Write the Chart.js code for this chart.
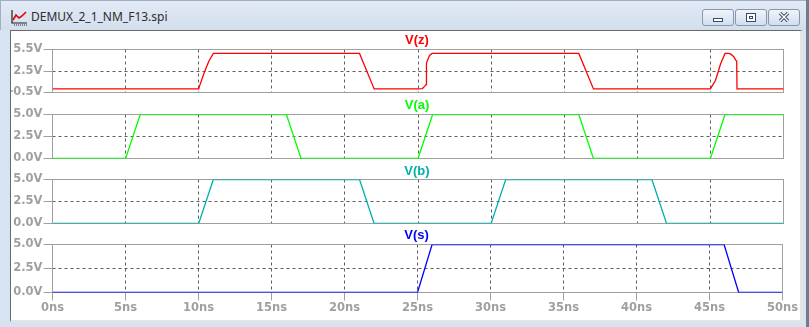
<!DOCTYPE html>
<html>
<head>
<meta charset="utf-8">
<title>DEMUX_2_1_NM_F13.spi</title>
<script src="https://cdn.jsdelivr.net/npm/chart.js@4.4.0/dist/chart.umd.min.js"></script>
<style>
  html, body { margin: 0; padding: 0; }
  body {
    width: 809px; height: 327px; position: relative; overflow: hidden;
    background: #d8e3f1;
  }
  .titlebar {
    position: absolute; left: 0; top: 0; width: 809px; height: 30px;
    background: linear-gradient(#e2eaf5, #d3deed);
    border-top: 1px solid #9fb0c6; border-left: 1px solid #9fb0c6;
    box-sizing: border-box;
  }
  .caption {
    position: absolute; left: 31px; top: 8px;
    font: 12px "Noto Sans", "DejaVu Sans", sans-serif; color: #2d2d2d;
  }
  .icon { position: absolute; left: 11px; top: 9px; }
  .btn {
    position: absolute; top: 9px; width: 32px; height: 17px;
    border: 1px solid #8597b2; border-radius: 3px; box-sizing: border-box;
    background: linear-gradient(#f0f4fa, #d2deee);
  }
  .min-glyph {
    position: absolute; left: 10px; top: 8px; width: 10px; height: 4px;
    border: 1px solid #3a4a62; background: #fff; box-sizing: border-box;
  }
  .max-glyph {
    position: absolute; left: 10px; top: 3px; width: 10px; height: 9px;
    border: 1px solid #3a4a62; background: #fff; box-sizing: border-box;
  }
  .max-glyph div {
    position: absolute; left: 2px; top: 2px; width: 4px; height: 3px;
    border: 1px solid #3a4a62; box-sizing: border-box;
  }
  .content {
    position: absolute; left: 10px; top: 30px; width: 793px; height: 292px;
    background: #fff; box-sizing: border-box;
    border-left: 1px solid #6a6a6a; border-top: 1px solid #6a6a6a;
    border-right: 3px solid #e4e4e4; border-bottom: 2px solid #e4e4e4;
  }
  .edge { position: absolute; left: 806px; top: 0; width: 3px; height: 327px; background: #6f7c8e; }
  canvas { position: absolute; left: 11px; }
</style>
</head>
<body>
<div class="titlebar"></div>
<svg class="icon" width="17" height="17" viewBox="0 0 17 17">
  <polyline points="1,1 1,14 16,14" fill="none" stroke="#222" stroke-width="1.2"/>
  <path d="M3 16h1M5 16h1M7 16h1M9 16h1M11 16h1M13 16h1M15 16h1" stroke="#222" stroke-width="1"/>
  <polyline points="2,11 5,6 8,9 11,7 15,3" fill="none" stroke="#e00000" stroke-width="1.6"/>
</svg>
<div class="caption">DEMUX_2_1_NM_F13.spi</div>
<div class="btn" style="left:702px"><div class="min-glyph"></div></div>
<div class="btn" style="left:735px"><div class="max-glyph"><div></div></div></div>
<div class="btn" style="left:768px">
  <svg width="30" height="15" style="position:absolute;left:0;top:0">
    <path d="M11 3L19 11M19 3L11 11" stroke="#3a4a62" stroke-width="3.2"/>
    <path d="M11 3L19 11M19 3L11 11" stroke="#fff" stroke-width="1.4"/>
  </svg>
</div>
<div class="content"></div>
<div class="edge"></div>

<canvas id="chartZ" width="789" height="69" style="top:31px"></canvas>
<canvas id="chartA" width="789" height="72" style="top:94px"></canvas>
<canvas id="chartB" width="789" height="71" style="top:160px"></canvas>
<canvas id="chartS" width="789" height="95" style="top:224px"></canvas>

<script>
// time axis (ns)
const timeTicks = [0, 5, 10, 15, 20, 25, 30, 35, 40, 45, 50];
const timeTickLabels = timeTicks.map((t) => t + "ns");

// voltage ticks
const zTicks = [-0.5, 2.5, 5.5];
const zTickLabels = ["-0.5V", "2.5V", "5.5V"];
const logicTicks = [0, 2.5, 5];
const logicTickLabels = ["0.0V", "2.5V", "5.0V"];

// V(z)
const zTime = [0, 10, 10.05, 10.4, 10.7, 11, 21, 22, 25, 25.3, 25.45, 25.55, 25.58, 25.65, 25.8, 25.97,
  36, 37, 45, 45.35, 45.7, 46, 46.25, 46.4, 46.6, 46.72, 46.8, 46.82, 50];
const zVolts = [0, 0, 0.35, 2.4, 3.9, 4.95, 4.95, 0, 0, 0.05, 0.35, 0.6, 3.6, 4.0, 4.7, 4.95,
  4.95, 0, 0, 1.2, 3.5, 4.95, 4.95, 4.85, 4.5, 4.05, 3.9, 0, 0];

// V(a)
const aTime = [0, 5, 6, 16, 17, 25, 26, 36, 37, 45, 46, 50];
const aVolts = [0, 0, 5, 5, 0, 0, 5, 5, 0, 0, 5, 5];

// V(b)
const bTime = [0, 10, 11, 21, 22, 30, 31, 41, 42, 50];
const bVolts = [0, 0, 5, 5, 0, 0, 5, 5, 0, 0];

// V(s)
const sTime = [0, 25, 26, 46, 47, 50];
const sVolts = [0, 0, 5, 5, 0, 0];

const tickFont = { family: "DejaVu Sans", weight: "bold", size: 11.5, lineHeight: 1 };
const axisGray = "#a0a0a0";

// dashed grid, solid frame and trace name, like the LTspice panes
const panelFrame = {
  id: "panelFrame",
  beforeDatasetsDraw(chart) {
    const { ctx, chartArea: a, scales } = chart;
    const opts = chart.options.plugins.panelFrame;
    ctx.save();
    ctx.lineWidth = 1;
    ctx.strokeStyle = "#5c5c5c";
    ctx.setLineDash([3, 3]);
    ctx.beginPath();
    timeTicks.slice(1, -1).forEach((t) => {
      const px = Math.floor(scales.x.getPixelForValue(t)) + 0.5;
      ctx.moveTo(px, a.top);
      ctx.lineTo(px, a.bottom);
    });
    const py = Math.floor(scales.y.getPixelForValue(opts.mid)) + 0.5;
    ctx.moveTo(a.left, py);
    ctx.lineTo(a.right, py);
    ctx.stroke();
    ctx.setLineDash([]);
    ctx.strokeStyle = axisGray;
    ctx.strokeRect(a.left, a.top, a.right - a.left, a.bottom - a.top);
    ctx.restore();
  },
  afterDraw(chart) {
    const { ctx, chartArea: a } = chart;
    const opts = chart.options.plugins.panelFrame;
    ctx.save();
    ctx.font = "bold 13px 'Liberation Sans', Arial, sans-serif";
    ctx.fillStyle = opts.color;
    ctx.textAlign = "center";
    ctx.textBaseline = "middle";
    ctx.fillText(opts.title, (a.left + a.right) / 2 - 1, opts.titleY);
    ctx.restore();
  },
};

const makePanel = (id, p) => {
  const ctx = document.getElementById(id).getContext("2d");
  return new Chart(ctx, {
    type: "line",
    data: {
      datasets: [
        {
          label: p.title,
          data: p.times.map((t, i) => ({ x: t, y: p.volts[i] })),
          borderColor: p.color,
          borderWidth: 1.3,
          pointRadius: 0,
          tension: 0,
          fill: false,
        },
      ],
    },
    options: {
      responsive: false,
      animation: false,
      events: [],
      layout: { padding: { left: 0, right: 16.5, top: p.padTop, bottom: p.padBottom } },
      plugins: {
        legend: { display: false },
        tooltip: { enabled: false },
        panelFrame: { title: p.title, color: p.color, titleY: p.titleY, mid: p.yTicks[1] },
      },
      scales: {
        x: {
          type: "linear",
          min: 0,
          max: 50,
          display: p.showTime,
          afterBuildTicks: (axis) => {
            axis.ticks = timeTicks.map((v) => ({ value: v }));
          },
          afterFit: (axis) => {
            axis.height = p.showTime ? 26 : 0;
          },
          ticks: {
            autoSkip: false,
            maxRotation: 0,
            padding: 2,
            color: axisGray,
            font: tickFont,
            callback: (v, i) => timeTickLabels[i],
          },
          grid: { drawOnChartArea: false, tickLength: 8, color: axisGray },
          border: { display: false },
        },
        y: {
          min: p.yTicks[0],
          max: p.yTicks[2],
          afterBuildTicks: (axis) => {
            axis.ticks = p.yTicks.map((v) => ({ value: v }));
          },
          afterFit: (axis) => {
            axis.width = 41.5;
          },
          ticks: {
            padding: 1,
            color: axisGray,
            font: tickFont,
            callback: (v, i) => p.yLabels[i],
          },
          grid: { drawOnChartArea: false, tickLength: 9, color: axisGray },
          border: { display: false },
        },
      },
    },
    plugins: [panelFrame],
  });
};

makePanel("chartZ", {
  times: zTime, volts: zVolts, color: "#ff0000", title: "V(z)", titleY: 9,
  yTicks: zTicks, yLabels: zTickLabels, padTop: 18.5, padBottom: 7.5, showTime: false,
});
makePanel("chartA", {
  times: aTime, volts: aVolts, color: "#00ff00", title: "V(a)", titleY: 11,
  yTicks: logicTicks, yLabels: logicTickLabels, padTop: 20.5, padBottom: 7.5, showTime: false,
});
makePanel("chartB", {
  times: bTime, volts: bVolts, color: "#00afaf", title: "V(b)", titleY: 11,
  yTicks: logicTicks, yLabels: logicTickLabels, padTop: 19.5, padBottom: 7.5, showTime: false,
});
makePanel("chartS", {
  times: sTime, volts: sVolts, color: "#0000ff", title: "V(s)", titleY: 11,
  yTicks: logicTicks, yLabels: logicTickLabels, padTop: 20.5, padBottom: 0.5, showTime: true,
});
</script>
</body>
</html>
